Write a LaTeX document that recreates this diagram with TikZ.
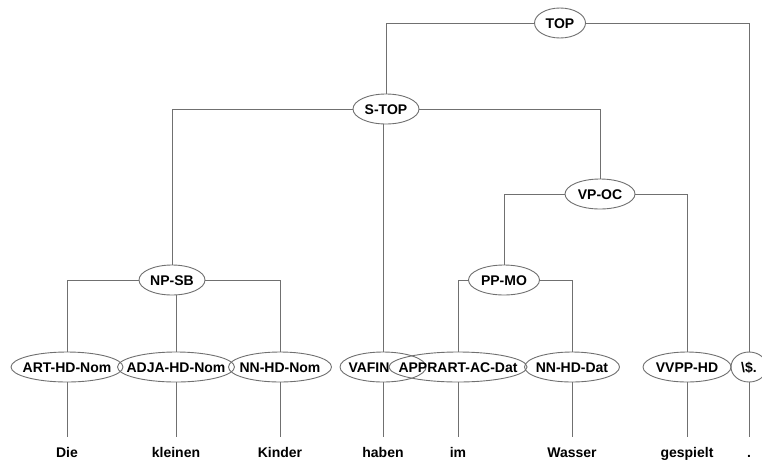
\documentclass[tikz,border=0pt]{standalone}
\usepackage{fontspec}
\setmainfont{Liberation Sans}
\usetikzlibrary{shapes.geometric}
\definecolor{linegray}{RGB}{112,112,112}
\newcommand{\zl}[1]{\makebox[0pt]{#1}}
\tikzset{
  cat/.style={shape=ellipse, draw=linegray, line width=0.9pt, minimum height=30pt, inner sep=0pt,
    text height=10pt, text depth=0pt, font=\fontsize{14}{16}\selectfont\bfseries},
  word/.style={anchor=base, inner xsep=2pt, inner ysep=10pt, text height=10pt, text depth=3pt,
    font=\fontsize{14}{16}\selectfont\bfseries},
  conn/.style={draw=linegray, line width=0.9pt}
}
\begin{document}
\begin{tikzpicture}[x=1pt,y=-1pt]
\useasboundingbox[fill=white] (0,0) rectangle (762,461);
% internal nodes
\node[cat, minimum width=51pt] (TOP) at (560,23) {\zl{TOP}};
\node[cat, minimum width=66pt] (STOP) at (386,109) {\zl{S-TOP}};
\node[cat, minimum width=70pt] (VPOC) at (600,194) {\zl{VP-OC}};
\node[cat, minimum width=66pt] (NPSB) at (172,280) {\zl{NP-SB}};
\node[cat, minimum width=71pt] (PPMO) at (504,280) {\zl{PP-MO}};
% preterminals
\node[cat, minimum width=112pt] (ART) at (67,367) {\zl{ART-HD-Nom}};
\node[cat, minimum width=117pt] (ADJA) at (176,367) {\zl{ADJA-HD-Nom}};
\node[cat, minimum width=103pt] (NNNom) at (280,367) {\zl{NN-HD-Nom}};
\node[cat, minimum width=86pt] (VAFIN) at (383,367) {\zl{VAFIN\hspace{28pt}}};
\node[cat, minimum width=138pt] (APPR) at (458,367) {\zl{APPRART-AC-Dat}};
\node[cat, minimum width=95pt] (NNDat) at (572,367) {\zl{NN-HD-Dat}};
\node[cat, minimum width=88pt] (VVPP) at (687,367) {\zl{VVPP-HD}};
\node[cat, minimum width=36pt] (DOL) at (749,367) {\zl{\textbackslash\$.}};
% words
\node[word] (w1) at (67,457) {Die};
\node[word] (w2) at (176,457) {kleinen};
\node[word] (w3) at (280,457) {Kinder};
\node[word] (w4) at (383,457) {haben};
\node[word] (w5) at (458,457) {im};
\node[word] (w6) at (572,457) {Wasser};
\node[word] (w7) at (687,457) {gespielt};
\node[word] (w8) at (749,457) {.};
% connectors
\path[conn] (TOP) -| (STOP);
\path[conn] (TOP) -| (DOL);
\path[conn] (STOP) -| (NPSB);
\path[conn] (STOP) -| (VPOC);
\path[conn] (VAFIN.north) -- (VAFIN.north |- STOP.south);
\path[conn] (NPSB) -| (ART);
\path[conn] (NPSB) -| (NNNom);
\path[conn] (ADJA.north) -- (ADJA.north |- NPSB.south);
\path[conn] (VPOC) -| (PPMO);
\path[conn] (VPOC) -| (VVPP);
\path[conn] (PPMO) -| (APPR);
\path[conn] (PPMO) -| (NNDat);
\foreach \p/\w in {ART/w1,ADJA/w2,NNNom/w3,VAFIN/w4,APPR/w5,NNDat/w6,VVPP/w7,DOL/w8}
  \path[conn] (\p.south) -- (\w.north);
\end{tikzpicture}
\end{document}
